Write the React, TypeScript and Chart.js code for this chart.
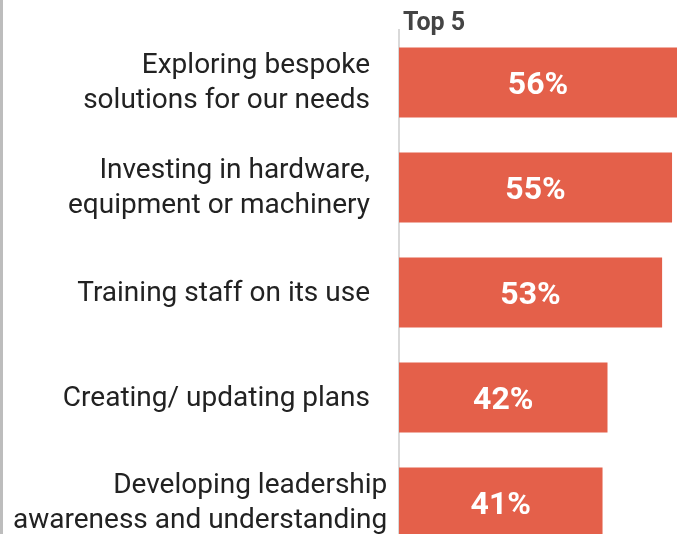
import React, { useEffect, useRef } from "react";
import { Chart, registerables } from "chart.js";

Chart.register(...registerables);

const categories: string[][] = [
  ["Exploring bespoke", "solutions for our needs"],
  ["Investing in hardware,", "equipment or machinery"],
  ["Training staff on its use"],
  ["Creating/ updating plans"],
  ["Developing leadership", "awareness and understanding"],
];
const values: number[] = [56, 55, 53, 42, 41];
const titleText = "Top 5";

const FONT = "Roboto, 'Noto Sans', sans-serif";

const labelsPlugin = {
  id: "customLabels",
  afterDraw(chart: any) {
    const ctx = chart.ctx;
    const area = chart.chartArea;
    const yScale = chart.scales.y;
    const meta = chart.getDatasetMeta(0);
    ctx.save();
    // title
    ctx.font = `bold 25px ${FONT}`;
    ctx.fillStyle = "#444444";
    ctx.textAlign = "left";
    ctx.textBaseline = "alphabetic";
    ctx.fillText(titleText, area.left + 4, 30);

    // category labels
    ctx.font = `28px ${FONT}`;
    ctx.fillStyle = "#222222";
    ctx.textBaseline = "middle";
    ctx.textAlign = "right";
    const boxRight = area.left - 29;
    const boxLeft = 13;
    const lineH = 35;
    categories.forEach((lines, i) => {
      const cy = yScale.getPixelForTick(i);
      const w = Math.max(...lines.map((l) => ctx.measureText(l).width));
      const right = Math.max(boxRight, boxLeft + w);
      lines.forEach((l, j) => {
        const y = cy + 1 + (j - (lines.length - 1) / 2) * lineH;
        ctx.fillText(l, right, y);
      });
    });

    // value labels
    ctx.font = `bold 32px ${FONT}`;
    ctx.fillStyle = "#ffffff";
    ctx.textAlign = "center";
    meta.data.forEach((el: any, i: number) => {
      const cx = (el.x + el.base) / 2;
      ctx.fillText(values[i] + "%", cx, el.y + 3);
    });
    ctx.restore();
  },
};

export default function App() {
  const ref = useRef<HTMLCanvasElement>(null);
  useEffect(() => {
    if (!ref.current) return;
    const chart = new Chart(ref.current, {
      type: "bar",
      data: {
        labels: categories.map((c) => c.join(" ")),
        datasets: [
          {
            data: values,
            backgroundColor: "#E4604A",
            borderWidth: 0,
            barPercentage: 0.667,
            categoryPercentage: 1,
          },
        ],
      },
      options: {
        indexAxis: "y",
        animation: false,
        responsive: false,
        layout: { padding: { left: 399, right: 6, top: 30, bottom: 5 } },
        plugins: {
          legend: { display: false },
          tooltip: { enabled: false },
          title: { display: false },
        },
        scales: {
          x: { display: false, min: 0, max: 56 },
          y: {
            display: true,
            ticks: { display: false },
            grid: { display: false, drawTicks: false },
            border: { display: true, color: "#d9d9d9", width: 2 },
          },
        },
      },
      plugins: [labelsPlugin],
    });
    return () => chart.destroy();
  }, []);
  return (
    <div
      style={{
        position: "absolute",
        left: 0,
        top: 0,
        width: 683,
        height: 534,
        overflow: "hidden",
        background: "#ffffff",
      }}
    >
      <div
        style={{
          position: "absolute",
          left: 0,
          top: 0,
          width: 3,
          height: 534,
          background: "#bdbdbd",
        }}
      />
      <canvas ref={ref} width={683} height={560} style={{ display: "block" }} />
    </div>
  );
}
